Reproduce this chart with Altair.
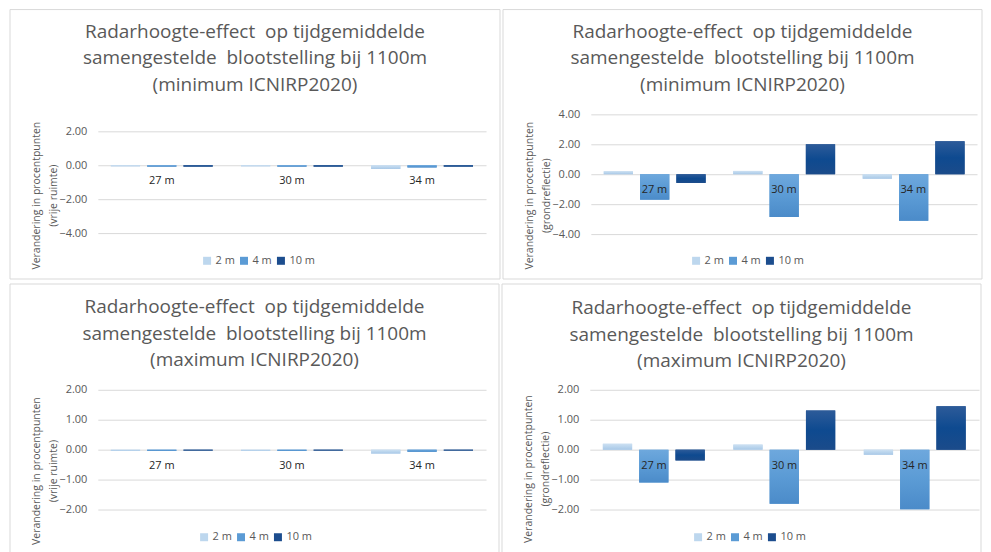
import altair as alt
import pandas as pd

categories = ["27 m", "30 m", "34 m"]
series = ["2 m", "4 m", "10 m"]

# minimum ICNIRP2020, vrije ruimte
min_free_2m = [-0.06, -0.06, -0.22]
min_free_4m = [-0.08, -0.08, -0.13]
min_free_10m = [-0.08, -0.08, -0.08]
# minimum ICNIRP2020, grondreflectie
min_ground_2m = [0.20, 0.22, -0.30]
min_ground_4m = [-1.70, -2.85, -3.10]
min_ground_10m = [-0.58, 2.00, 2.20]
# maximum ICNIRP2020, vrije ruimte
max_free_2m = [-0.04, -0.04, -0.13]
max_free_4m = [-0.04, -0.04, -0.07]
max_free_10m = [-0.03, -0.03, -0.03]
# maximum ICNIRP2020, grondreflectie
max_ground_2m = [0.20, 0.17, -0.17]
max_ground_4m = [-1.10, -1.81, -1.99]
max_ground_10m = [-0.36, 1.31, 1.45]

title_min = ["Radarhoogte-effect\u00a0 op tijdgemiddelde", "samengestelde\u00a0 blootstelling bij 1100m", "(minimum ICNIRP2020)"]
title_max = ["Radarhoogte-effect\u00a0 op tijdgemiddelde", "samengestelde\u00a0 blootstelling bij 1100m", "(maximum ICNIRP2020)"]
ytitle_free = ["Verandering in procentpunten", "(vrije ruimte)"]
ytitle_ground = ["Verandering in procentpunten", "(grondreflectie)"]

flat_colors = ["#bdd7ee", "#5b9bd5", "#1c4d8e"]
grad_stops = {
    "2 m": [("#cde0f2", 0), ("#bad5ed", 0.5), ("#a9c8e7", 1)],
    "4 m": [("#6ea8dd", 0), ("#5b9bd5", 0.5), ("#4b8bc9", 1)],
    "10 m": [("#2d5b99", 0), ("#0e4a90", 0.5), ("#1b4b8a", 1)],
}

FONT = "Open Sans"
GRAY = "#595959"
FRAME = "#d9d9d9"


def gradient(s):
    return alt.LinearGradient(
        gradient="linear",
        stops=[alt.GradientStop(color=c, offset=o) for c, o in grad_stops[s]],
        x1=0, x2=0, y1=0, y2=1,
    )


def panel(v2, v4, v10, title, ytitle, domain, ticks, width, height,
          title_offset, title_y, legend_x, legend_y, frame):
    rows = []
    for s, vals in zip(series, [v2, v4, v10]):
        for c, v in zip(categories, vals):
            rows.append({"cat": c, "series": s, "value": v})
    df = pd.DataFrame(rows)
    lab = pd.DataFrame({"cat": categories, "value": [0.0] * len(categories)})

    x = alt.X("cat:N", scale=alt.Scale(domain=categories, paddingInner=0.217, paddingOuter=0.1), axis=None)
    xo = alt.XOffset("series:N", scale=alt.Scale(domain=series, paddingInner=0.194, paddingOuter=0))
    y = alt.Y(
        "value:Q",
        stack=None,
        scale=alt.Scale(domain=domain, nice=False, zero=False),
        axis=alt.Axis(
            values=ticks, format=".2f", title=ytitle, titleY=title_y,
            titlePadding=0, titleLineHeight=17, titleFontWeight="normal",
            titleFontSize=10.5, titleColor=GRAY, titleFont=FONT,
            labelColor=GRAY, labelFontSize=11, labelFont=FONT, labelPadding=11,
            domain=False, ticks=False, gridColor="#d9d9d9", gridWidth=1,
        ),
    )
    box = alt.Chart(pd.DataFrame({"k": [0]})).mark_rect(
        fillOpacity=0, stroke=FRAME, strokeWidth=1
    ).encode(
        x=alt.value(frame[0]), x2=alt.value(frame[1]),
        y=alt.value(frame[2]), y2=alt.value(frame[3]),
    )
    base = alt.Chart(df)
    flat = base.mark_bar().encode(
        x=x, xOffset=xo, y=y,
        color=alt.Color(
            "series:N",
            scale=alt.Scale(domain=series, range=flat_colors),
            legend=alt.Legend(
                orient="none", legendX=legend_x, legendY=legend_y, direction="horizontal",
                title=None, symbolType="square", symbolSize=64, symbolStrokeWidth=0,
                labelFontSize=11, labelColor=GRAY, labelFont=FONT, columnPadding=3,
                labelOffset=3,
            ),
        ),
    )
    grads = [
        base.transform_filter(alt.datum.series == s).mark_bar(fill=gradient(s)).encode(x=x, xOffset=xo, y=y)
        for s in series
    ]
    text = alt.Chart(lab).mark_text(dy=16, fontSize=11, font=FONT, color="#262626").encode(
        x=x, y=y, text="cat:N"
    )
    return alt.layer(box, flat, *grads, text).properties(
        width=width, height=height,
        title=alt.TitleParams(
            text=title, fontSize=19, font=FONT, color=GRAY, fontWeight="normal",
            lineHeight=26.5, anchor="middle", frame="bounds", offset=title_offset,
        ),
    )


p1 = panel(min_free_2m, min_free_4m, min_free_10m, title_min, ytitle_free,
           [-4, 3], [-4, -2, 0, 2], 389, 119, -86, 81, 104, 141, (-88, 403, -105, 165))
p2 = panel(min_ground_2m, min_ground_4m, min_ground_10m, title_min, ytitle_ground,
           [-4, 4], [-4, -2, 0, 2, 4], 387, 120, -86, 81, 100, 141, (-88, 392, -105, 165))
p3 = panel(max_free_2m, max_free_4m, max_free_10m, title_max, ytitle_free,
           [-2, 2], [-2, -1, 0, 1, 2], 389, 120, -87, 81, 101, 142, (-88, 402, -106, 170))
p4 = panel(max_ground_2m, max_ground_4m, max_ground_10m, title_max, ytitle_ground,
           [-2, 2], [-2, -1, 0, 1, 2], 390, 120, -88, 79, 103, 142, (-88, 392, -106, 170))

row1 = alt.hconcat(p1, p2, spacing=1).resolve_scale(color="independent").resolve_legend(color="independent")
row2 = alt.hconcat(p3, p4, spacing=1).resolve_scale(color="independent").resolve_legend(color="independent")

chart = alt.vconcat(row1, row2, spacing=3).resolve_scale(
    color="independent"
).resolve_legend(color="independent").properties(
    padding={"left": 1, "top": 0, "right": 0, "bottom": 0},
    background="white",
).configure_view(stroke=None)

chart.save("out.html", embed_options={"renderer": "svg", "actions": False})
